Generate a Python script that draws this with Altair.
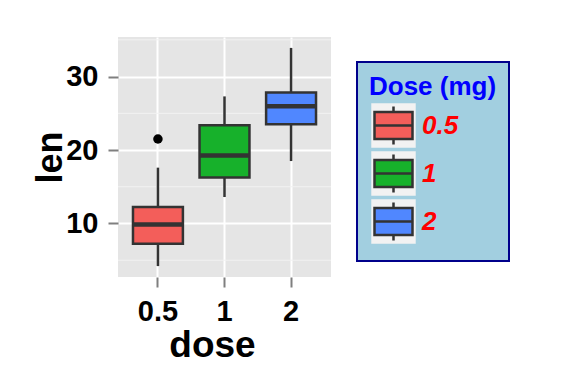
import altair as alt
import pandas as pd

# ToothGrowth: len by dose (boxplot summary)
doses = ["0.5", "1", "2"]
lower = [4.2, 13.6, 18.5]
q1 = [7.225, 16.25, 23.525]
median = [9.85, 19.25, 25.95]
q3 = [12.25, 23.375, 27.825]
upper = [17.6, 27.3, 33.9]
outlier_dose = ["0.5"]
outlier_len = [21.5]
major_breaks = [10, 20, 30]
minor_breaks = [5, 15, 25, 35]
colors = ["#F35E5A", "#17B12B", "#5087FF"]

box = pd.DataFrame(dict(dose=doses, dose_key=doses, lower=lower, q1=q1,
                        median=median, q3=q3, upper=upper))
out = pd.DataFrame(dict(dose=outlier_dose, len=outlier_len))
minor = pd.DataFrame(dict(v=minor_breaks))

FONT = "Liberation Sans"
xscale = alt.Scale(domain=doses, paddingInner=0.25, paddingOuter=0.225)
yscale = alt.Scale(domain=[2.715, 35.385], nice=False, zero=False)
color_scale = alt.Scale(domain=doses, range=colors)

# legend key glyphs (symbol paths); both share the same outer extent so rows align
key_square = "M-1.17,-1.17H1.17V1.17H-1.17Z"
box_path = ("M-1,-0.71H1V0.71H-1Z M-1,0H1 M0,-0.71V-1 M0,0.71V1 "
            "M-1.17,-1.17L-1.17,-1.17 M1.17,1.17L1.17,1.17")
# separate (reversed) domain so the grey key legend is not merged into the colour legend
key_scale = alt.Scale(domain=doses[::-1], range=[key_square, key_square, key_square])

xaxis = alt.Axis(
    title="dose", labelAngle=0, bandPosition=0.5, grid=True, gridColor="white", gridWidth=2,
    domain=False, tickColor="#7F7F7F", tickWidth=2, tickSize=10,
    labelFont=FONT, labelFontSize=29, labelFontWeight="bold", labelColor="black", labelPadding=10,
    titleFont=FONT, titleFontSize=37, titleFontWeight="bold", titleColor="black", titlePadding=1,
    titleX=94,
)
yaxis = alt.Axis(
    title="len", values=major_breaks, grid=True, gridColor="white", gridWidth=2,
    domain=False, tickColor="#7F7F7F", tickWidth=2, tickSize=10,
    labelFont=FONT, labelFontSize=29, labelFontWeight="bold", labelColor="black", labelPadding=10,
    titleFont=FONT, titleFontSize=36, titleFontWeight="bold", titleColor="black", titlePadding=-4,
)

common = dict(
    orient="none", legendX=239, legendY=25,
    titleFont=FONT, titleFontSize=26, titleFontWeight="bold",
    labelFont=FONT, labelFontSize=26, labelFontWeight="bold", labelFontStyle="italic",
    symbolSize=1444, symbolStrokeWidth=2.5, symbolOffset=4, padding=12, rowPadding=-8,
    labelOffset=8, titlePadding=5,
)
# background legend: panel, title and grey key squares
legend_keys = alt.Legend(
    title="Dose (mg)", titleColor="#0000FF", labelExpr="''",
    symbolFillColor="#F2F2F2", symbolStrokeColor="white", symbolOpacity=1,
    fillColor="#A2CFE0", strokeColor="#00008B", zindex=0, **common,
)
# foreground legend: boxplot glyphs and labels
legend_glyphs = alt.Legend(
    title=" ", titleColor="transparent", labelColor="#FF0000",
    symbolType=box_path, symbolStrokeColor="#333333", symbolOpacity=1,
    zindex=1, **common,
)

minor_rules = alt.Chart(minor).mark_rule(color="#F2F2F2", strokeWidth=1).encode(
    y=alt.Y("v:Q", scale=yscale, axis=yaxis)
)
whisk = alt.Chart(box).mark_rule(color="#333333", strokeWidth=2.5).encode(
    x=alt.X("dose:N", scale=xscale, sort=doses, bandPosition=0.5, axis=xaxis),
    y=alt.Y("lower:Q", scale=yscale),
    y2="upper:Q",
)
keys = alt.Chart(box).mark_point(filled=True, color="#F2F2F2", opacity=1).encode(
    x=alt.X("dose:N", scale=xscale, sort=doses, bandPosition=0.5, axis=xaxis),
    y=alt.Y("median:Q", scale=yscale),
    shape=alt.Shape("dose_key:N", scale=key_scale, legend=legend_keys),
)
bars = alt.Chart(box).mark_bar(stroke="#333333", strokeWidth=2.5, opacity=1).encode(
    x=alt.X("dose:N", scale=xscale, sort=doses, axis=xaxis),
    y=alt.Y("q1:Q", scale=yscale),
    y2="q3:Q",
    color=alt.Color("dose:N", scale=color_scale, legend=legend_glyphs),
)
med = alt.Chart(box).mark_tick(color="#333333", thickness=4.5, size=50, orient="horizontal", opacity=1).encode(
    x=alt.X("dose:N", scale=xscale, sort=doses, axis=xaxis),
    y=alt.Y("median:Q", scale=yscale),
)
pts = alt.Chart(out).mark_circle(color="black", size=90, opacity=1).encode(
    x=alt.X("dose:N", scale=xscale, sort=doses, bandPosition=0.5, axis=xaxis),
    y=alt.Y("len:Q", scale=yscale),
)

chart = alt.layer(minor_rules, whisk, keys, bars, med, pts).properties(
    width=213, height=240,
    autosize=alt.AutoSizeParams(type="none"),
    padding={"left": 110, "top": 29, "right": 230, "bottom": 90},
).configure_view(fill="#E5E5E5", strokeWidth=0).configure_legend(strokeWidth=2)

chart.save("out.html", embed_options={"renderer": "svg", "actions": False})
